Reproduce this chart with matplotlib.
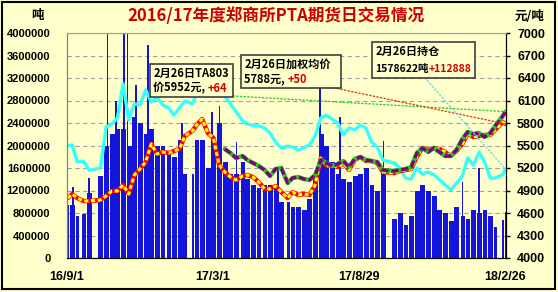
import numpy as np
import pandas as pd
import matplotlib
matplotlib.use('Agg')
import matplotlib.pyplot as plt
import matplotlib.dates as mdates
from matplotlib.patches import Rectangle
from matplotlib.text import Annotation

# exchange holidays (no trading)
holiday_spans = [('2016-09-15', '2016-09-16'), ('2016-10-03', '2016-10-07'),
                 ('2017-01-02', '2017-01-02'), ('2017-01-27', '2017-02-02'),
                 ('2017-04-03', '2017-04-04'), ('2017-05-01', '2017-05-01'),
                 ('2017-05-29', '2017-05-30'), ('2017-10-02', '2017-10-06'),
                 ('2018-01-01', '2018-01-01'), ('2018-02-15', '2018-02-21')]

# weekly volume level (tonnes), one value per trading week
week_vol = [940000, 950000, 750000, 780000, 1150000, 1450000, 2000000, 2200000,
            2300000, 2300000, 2000000, 2500000, 2400000, 2200000, 2300000, 2000000,
            2000000, 1900000, 1800000, 2100000, 1500000, 1500000, 2100000, 2100000,
            1600000, 2000000, 2400000, 1700000, 1500000, 1500000, 1700000, 1400000,
            1300000, 1250000, 1300000, 1300000, 1300000, 1000000, 1000000, 900000,
            900000, 850000, 1050000, 1400000, 2200000, 2000000, 1700000, 1500000,
            1400000, 1350000, 1450000, 1500000, 1600000, 1300000, 1200000, 1600000,
            700000, 800000, 580000, 750000, 1200000, 1300000, 1200000, 1100000,
            850000, 800000, 650000, 900000, 750000, 700000, 850000, 800000,
            850000, 750000, 550000, 680000, 820000]

# single heavy days
spike_days = ['2016-09-07', '2016-09-27', '2016-10-20', '2016-10-31', '2016-11-10',
              '2016-11-14', '2016-11-24', '2016-12-09', '2017-01-20', '2017-02-27',
              '2017-03-08', '2017-03-29', '2017-05-19', '2017-07-10', '2017-08-04',
              '2017-09-27', '2018-01-03', '2018-01-23']
spike_vol = [1260000, 1420000, 4200000, 2800000, 4200000, 4200000, 3080000, 3790000,
             2400000, 2600000, 2700000, 2060000, 1600000, 3160000, 2500000, 2080000,
             1350000, 1600000]

# open interest (tonnes), weekly
open_int = [1990000, 2010000, 1710000, 1720000, 1560000, 1600000, 2330000, 2380000,
            2490000, 3100000, 2450000, 2740000, 2720000, 2990000, 2770000, 2860000,
            2720000, 2670000, 2540000, 2670000, 2790000, 2740000, 2920000, 3020000,
            3060000, 2990000, 2950000, 2880000, 2740000, 2600000, 2440000, 2380000,
            2360000, 2350000, 2310000, 2220000, 2060000, 1960000, 1990000, 1970000,
            1920000, 1960000, 2010000, 2170000, 2490000, 2540000, 2470000, 2400000,
            2190000, 2310000, 2280000, 2360000, 2310000, 2060000, 1970000, 1740000,
            1690000, 1600000, 1420000, 1400000, 1600000, 1490000, 1530000, 1480000,
            1390000, 1300000, 1210000, 1330000, 1460000, 1780000, 1650000, 1880000,
            1710000, 1420000, 1420000, 1480000, 1578622]

# weighted average price (yuan/t), weekly
avg_price = [4800, 4853, 4800, 4760, 4760, 4773, 4827, 4893, 4893, 4973, 4853, 5107,
             5187, 5280, 5520, 5387, 5413, 5400, 5427, 5453, 5627, 5693, 5773, 5853,
             5667, 5600, 5240, 5147, 5080, 5040, 5093, 5107, 5080, 5013, 4920, 4920,
             4960, 4880, 4800, 4880, 4840, 4853, 4840, 4973, 5333, 5227, 5240, 5213,
             5267, 5173, 5307, 5347, 5293, 5293, 5267, 5147, 5133, 5160, 5173, 5187,
             5347, 5467, 5440, 5467, 5453, 5413, 5360, 5427, 5520, 5667, 5613, 5627,
             5640, 5640, 5707, 5813, 5788]

# TA803 price, weekly, last 50 weeks
ta803 = [5453, 5400, 5333, 5360, 5307, 5267, 5227, 5173, 5093, 5187, 5200, 5000,
         5067, 5080, 5053, 5040, 5107, 5307, 5267, 5227, 5253, 5293, 5213, 5320,
         5347, 5307, 5293, 5280, 5173, 5160, 5173, 5187, 5213, 5400, 5467, 5413,
         5467, 5413, 5360, 5360, 5440, 5587, 5680, 5653, 5667, 5613, 5667, 5760,
         5893, 5952]

tick_dates = ['2016-09-01', '2017-03-01', '2017-08-29', '2018-02-26']
tick_labels = ['16/9/1', '17/3/1', '17/8/29', '18/2/26']

# trading weeks
days = pd.bdate_range('2016-09-01', '2018-02-26')
hol = pd.DatetimeIndex([])
for a, b in holiday_spans:
    hol = hol.append(pd.date_range(a, b))
days = days[~days.isin(hol)]
grp = pd.Series(days, index=days).groupby(days.to_period('W'))
first = mdates.date2num(grp.min().values)
last = mdates.date2num(grp.max().values)
assert len(first) == len(week_vol) == len(open_int) == len(avg_price)
bar_w = last - first + 2.0
xmid = first + (last - first + 1) / 2

cjk = ['Noto Sans CJK SC', 'DejaVu Sans']
bg = '#FFFFCC'
blue = '#1414DC'
W, H = 558, 292

def fx(px):
    return px / W

def fy(py):
    return 1 - py / H

fig = plt.figure(figsize=(W / 100, H / 100), dpi=100, facecolor=bg)
ax = fig.add_axes([fx(67), fy(258), 439 / W, 225 / H])
ax.set_facecolor(bg)
ax2 = ax.twinx()

ax.bar(first, week_vol, width=bar_w, align='edge', color=blue, lw=0,
       antialiased=False, zorder=2)
ax.bar(mdates.date2num(pd.to_datetime(spike_days)), spike_vol, width=2.2,
       align='edge', color=blue, lw=0, antialiased=False, zorder=2)
ax.plot(xmid, open_int, color='#33FFFF', lw=2.4, zorder=3)

ax2.plot(xmid, avg_price, color='#FF0000', lw=3.2, solid_capstyle='round')
ax2.plot(xmid, avg_price, color='#FFFF00', lw=2.2, dashes=(1.3, 0.9))
ax2.plot(xmid[-len(ta803):], ta803, color='#22CC22', lw=3.2, solid_capstyle='round')
ax2.plot(xmid[-len(ta803):], ta803, color='#800080', lw=2.4, dashes=(2.2, 0.8))

x0 = mdates.date2num(pd.Timestamp(tick_dates[0]))
x1 = mdates.date2num(pd.Timestamp(tick_dates[-1])) + 1
ax.set_xlim(x0, x1)
ax.set_ylim(0, 4000000)
ax2.set_ylim(4000, 7000)
ax.set_yticks(np.arange(0, 4000001, 400000))
ax.set_yticklabels(['%d' % v for v in np.arange(0, 4000001, 400000)])
ax2.set_yticks(np.arange(4000, 7001, 300))
ax.set_xticks(mdates.date2num(pd.to_datetime(tick_dates)))
ax.set_xticklabels(tick_labels)

ax.set_axisbelow(True)
ax.grid(axis='y', color='#A0A0A0', ls=(0, (4, 3)), lw=0.8)
ax.tick_params(axis='y', length=0, pad=12)
ax.tick_params(axis='x', length=0, pad=9)
ax2.tick_params(axis='y', length=3, width=1, direction='out', pad=5)
for lab in ax.get_yticklabels():
    lab.set_fontfamily('Liberation Sans')
    lab.set_fontweight('bold')
    lab.set_fontsize(8)
for lab in ax2.get_yticklabels():
    lab.set_fontfamily('Liberation Sans')
    lab.set_fontweight('bold')
    lab.set_fontsize(9)
for lab in ax.get_xticklabels():
    lab.set_fontfamily('Liberation Sans')
    lab.set_fontweight('bold')
    lab.set_fontsize(9)

for a in (ax, ax2):
    a.spines['top'].set_color('#A0A0A0')
    a.spines['left'].set_color('#808080')
    a.spines['right'].set_color('black')
    a.spines['bottom'].set_color('black')

# title and units
fig.text(fx(276), fy(16), '2016/17年度郑商所PTA期货日交易情况', ha='center', va='center',
         color='#CC0000', fontsize=12, fontweight='bold', family=cjk)
fig.text(fx(37), fy(16), '吨', ha='center', va='center', fontsize=9,
         fontweight='bold', family=cjk)
fig.text(fx(530), fy(16), '元/吨', ha='center', va='center', fontsize=9,
         fontweight='bold', family=cjk)

# leader lines
xl = xmid[-1]
ax2.annotate('', xy=(xl, ta803[-1]), xytext=(233, H - 96), textcoords='figure pixels',
             arrowprops=dict(arrowstyle='-', color='#33CC33', ls=':', lw=1,
                             shrinkA=0, shrinkB=0))
ax2.annotate('', xy=(xl, avg_price[-1]), xytext=(330, H - 87), textcoords='figure pixels',
             arrowprops=dict(arrowstyle='-', color='#E04020', ls=':', lw=1,
                             shrinkA=0, shrinkB=0))
ax2.annotate('', xy=(xl, open_int[-1]), xycoords=ax.transData, xytext=(425, H - 78),
             textcoords='figure pixels',
             arrowprops=dict(arrowstyle='-', color='#66DDDD', ls=':', lw=1,
                             shrinkA=0, shrinkB=0))

# callout boxes
boxes = [((150, 64, 233, 97), '2月26日TA803', '价5952元, ', '+64', 8),
         ((241, 55, 341, 88), '2月26日加权均价', '5788元, ', '+50', 8),
         ((372, 42, 475, 78), '2月26日持仓', '1578622吨', '+112888', 7.5)]
for (l, t, r, b), s1, s2, s3, fs in boxes:
    fig.add_artist(Rectangle((fx(l), fy(b)), (r - l) / W, (b - t) / H,
                             transform=fig.transFigure, facecolor=bg,
                             edgecolor='#404040', lw=1.2, zorder=5))
    fig.text(fx(l + 4), fy(t + 9), s1, ha='left', va='center', fontsize=8,
             fontweight='bold', family=cjk, zorder=6)
    t2 = fig.text(fx(l + 3), fy(b - 9), s2, ha='left', va='center', fontsize=fs,
                  fontweight='bold', family=cjk, zorder=6)
    fig.add_artist(Annotation(s3, xy=(1, 0.5), xycoords=t2, ha='left', va='center',
                              fontsize=fs, fontweight='bold', color='#CC0000',
                              family=cjk, zorder=6))

# outer frame
fig.add_artist(Rectangle((fx(1.5), fy(289)), 553 / W, 287 / H, transform=fig.transFigure,
                         fill=False, edgecolor='black', lw=1.5, zorder=10))

fig.savefig('out.png', dpi=100, facecolor=bg)
